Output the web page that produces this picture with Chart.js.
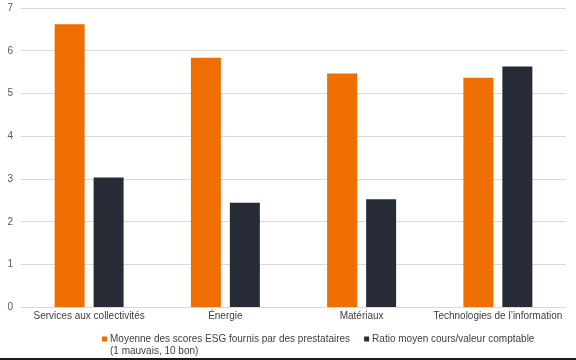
<!DOCTYPE html>
<html>
<head>
<meta charset="utf-8">
<script src="https://cdn.jsdelivr.net/npm/chart.js@4"></script>
<style>
  html, body { margin: 0; padding: 0; background: #fff; }
  #wrap { width: 576px; height: 358px; border-bottom: 2px solid #1a1a1a; position: relative; }
  canvas { display: block; }
</style>
</head>
<body>
<div id="wrap"><canvas id="c" width="576" height="358"></canvas></div>
<script>
const categories = ["Services aux collectivités", "Énergie", "Matériaux", "Technologies de l’information"];
const esgScores = [6.62, 5.84, 5.47, 5.37];
const priceToBook = [3.04, 2.45, 2.53, 5.63];
const seriesNames = [["Moyenne des scores ESG fournis par des prestataires", "(1 mauvais, 10 bon)"], ["Ratio moyen cours/valeur comptable"]];
const yTicks = [0, 1, 2, 3, 4, 5, 6, 7];

const FONT = { family: "'Liberation Sans', Arial, sans-serif", size: 10 };
const seriesColors = ['#EE6E00', '#272B36'];

// Custom legend: marker aligned with first line, multi-line text
const customLegend = {
  id: 'customLegend',
  afterDraw(chart) {
    const ctx = chart.ctx;
    const area = chart.chartArea;
    ctx.save();
    ctx.font = `${FONT.size}px ${FONT.family}`;
    ctx.textBaseline = 'middle';
    ctx.textAlign = 'left';
    const y0 = area.bottom + 31.5;
    const lineH = 12;
    const box = 5;
    let x = 102;
    chart.data.datasets.forEach((ds, i) => {
      ctx.fillStyle = ds.backgroundColor;
      ctx.fillRect(x, y0 - box / 2, box, box);
      ctx.fillStyle = '#404040';
      const lines = seriesNames[i];
      let maxW = 0;
      lines.forEach((ln, k) => {
        ctx.fillText(ln, x + box + 3, y0 + k * lineH);
        maxW = Math.max(maxW, ctx.measureText(ln).width);
      });
      x += box + 3 + maxW + 14;
    });
    ctx.restore();
  }
};

new Chart(document.getElementById('c'), {
  type: 'bar',
  data: {
    labels: categories,
    datasets: [
      { label: seriesNames[0].join(' '), data: esgScores, backgroundColor: seriesColors[0],
        categoryPercentage: 0.572, barPercentage: 0.77 },
      { label: seriesNames[1].join(' '), data: priceToBook, backgroundColor: seriesColors[1],
        categoryPercentage: 0.572, barPercentage: 0.77 }
    ]
  },
  options: {
    responsive: false,
    animation: false,
    devicePixelRatio: 1,
    layout: { padding: { top: 0, right: 10, left: 0, bottom: 32.5 } },
    plugins: {
      tooltip: { enabled: false },
      legend: { display: false }
    },
    scales: {
      x: {
        grid: { display: false, drawTicks: false },
        border: { display: false },
        ticks: { font: FONT, color: '#404040', padding: 3, maxRotation: 0, autoSkip: false }
      },
      y: {
        min: 0, max: 7,
        afterFit(scale) { scale.width = 21; scale.paddingTop = 8; },
        afterBuildTicks(scale) { scale.ticks = yTicks.map(v => ({ value: v })); },
        grid: { color: '#D9D9D9', drawTicks: false, lineWidth: 1 },
        border: { display: false },
        ticks: { font: FONT, color: '#595959', padding: 8, stepSize: 1 }
      }
    }
  },
  plugins: [customLegend]
});
</script>
</body>
</html>
